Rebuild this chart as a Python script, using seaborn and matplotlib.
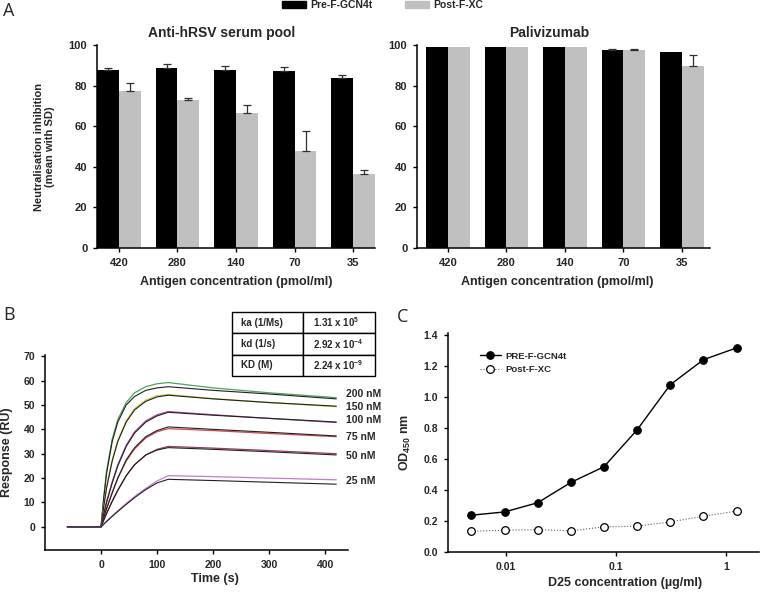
import matplotlib
matplotlib.use('Agg')
import matplotlib.pyplot as plt
from matplotlib.patches import Patch
from matplotlib.ticker import FixedLocator, NullLocator
import seaborn as sns
import pandas as pd

# --- panel A: neutralisation inhibition (mean with SD) ---
antigen_conc = ['420', '280', '140', '70', '35']
antigens = ['Pre-F-GCN4t', 'Post-F-XC']
serum_pre = [87.7, 88.6, 87.5, 87.2, 83.8]
serum_pre_sd = [0.8, 1.9, 2.3, 2.1, 1.6]
serum_post = [77.3, 73.0, 66.4, 47.7, 36.4]
serum_post_sd = [3.8, 0.8, 4.1, 9.7, 2.1]
pali_pre = [98.9, 98.9, 98.9, 97.6, 96.6]
pali_pre_sd = [0, 0, 0, 0.6, 0]
pali_post = [98.9, 98.9, 98.9, 97.4, 89.7]
pali_post_sd = [0, 0, 0, 0.8, 5.4]

# --- panel B: SPR sensorgrams (data trace + fit per concentration) ---
spr_time = [-60, 0, 5, 10, 20, 30, 45, 60, 80, 100, 120, 200, 300, 420]
spr_conc = ['200 nM', '150 nM', '100 nM', '75 nM', '50 nM', '25 nM']
spr_data = [
    [0, 0, 12.5, 23.0, 36.0, 44.0, 51.0, 55.0, 57.5, 58.7, 59.2, 57.0, 55.0, 53.0],
    [0, 0, 8.8, 16.5, 27.5, 35.5, 43.5, 48.5, 52.0, 53.8, 54.3, 52.6, 51.0, 49.3],
    [0, 0, 5.5, 10.5, 18.5, 25.5, 33.5, 39.0, 43.5, 46.0, 47.3, 46.0, 44.5, 42.8],
    [0, 0, 3.9, 7.5, 14.0, 20.0, 27.0, 32.0, 36.5, 39.0, 40.3, 39.5, 38.3, 37.0],
    [0, 0, 2.9, 5.5, 10.5, 15.0, 21.0, 25.5, 29.5, 31.8, 33.0, 32.3, 31.3, 30.0],
    [0, 0, 1.2, 2.3, 4.5, 6.6, 9.6, 12.4, 15.8, 18.8, 21.0, 20.6, 20.0, 19.3],
]
spr_fit = [
    [0, 0, 12.0, 22.0, 35.0, 43.0, 50.0, 53.5, 56.0, 57.0, 57.5, 56.0, 54.5, 52.5],
    [0, 0, 8.5, 16.0, 27.0, 35.0, 43.0, 48.0, 51.5, 53.3, 54.0, 52.5, 51.0, 49.5],
    [0, 0, 5.3, 10.0, 18.0, 25.0, 33.0, 38.5, 43.0, 45.5, 47.0, 45.8, 44.5, 43.0],
    [0, 0, 3.9, 7.5, 14.0, 20.0, 27.5, 32.5, 37.0, 39.5, 41.0, 40.0, 38.8, 37.3],
    [0, 0, 2.8, 5.5, 10.5, 15.0, 21.0, 25.5, 29.5, 31.5, 32.5, 31.8, 30.8, 29.5],
    [0, 0, 1.1, 2.2, 4.3, 6.3, 9.2, 12.0, 15.3, 18.0, 19.5, 19.0, 18.3, 17.5],
]
kinetics = [['ka (1/Ms)', r'1.31 x 10$^{\mathbf{5}}$'],
            ['kd (1/s)', r'2.92 x 10$^{\mathbf{-4}}$'],
            ['KD (M)', r'2.24 x 10$^{\mathbf{-9}}$']]

# --- panel C: ELISA with D25 ---
d25_conc = [0.00488, 0.00977, 0.0195, 0.0391, 0.0781, 0.156, 0.3125, 0.625, 1.25]
pre_od = [0.237, 0.258, 0.317, 0.448, 0.549, 0.786, 1.077, 1.238, 1.314]
post_od = [0.134, 0.140, 0.144, 0.136, 0.162, 0.166, 0.194, 0.230, 0.263]

sns.set_style('ticks')
plt.rcParams['font.family'] = ['Liberation Sans', 'DejaVu Sans']
plt.rcParams['font.weight'] = 'bold'
plt.rcParams['axes.labelweight'] = 'bold'
plt.rcParams['axes.titleweight'] = 'bold'
plt.rcParams['mathtext.fontset'] = 'custom'
plt.rcParams['mathtext.rm'] = 'Liberation Sans:bold'
plt.rcParams['mathtext.bf'] = 'Liberation Sans:bold'
plt.rcParams['axes.linewidth'] = 1.1
plt.rcParams['axes.edgecolor'] = 'black'

bar_colors = {'Pre-F-GCN4t': 'black', 'Post-F-XC': '#c0c0c0'}
W, H = 760, 594

fig = plt.figure(figsize=(7.6, 5.94), dpi=100)
axA1 = fig.add_axes([97 / W, 1 - 248 / H, 278 / W, 203 / H])
axA2 = fig.add_axes([417 / W, 1 - 248 / H, 293 / W, 203 / H])
axB = fig.add_axes([45 / W, 1 - 550 / H, 303 / W, 195 / H])
axC = fig.add_axes([448 / W, 1 - 552 / H, 311 / W, 219 / H])


def bar_panel(ax, pre, pre_sd, post, post_sd, title, xlim, xlab_x):
    df = pd.DataFrame({'conc': antigen_conc * 2,
                       'antigen': [antigens[0]] * 5 + [antigens[1]] * 5,
                       'value': pre + post})
    sns.barplot(data=df, x='conc', y='value', hue='antigen', order=antigen_conc,
                hue_order=antigens, palette=bar_colors, width=0.75, errorbar=None,
                linewidth=0, legend=False, ax=ax)
    for cont, sds in zip(ax.containers, [pre_sd, post_sd]):
        for bar, sd in zip(cont, sds):
            if sd > 0:
                ax.errorbar(bar.get_x() + bar.get_width() / 2, bar.get_height(),
                            yerr=[[0], [sd]], color='#303030', lw=0.9,
                            capsize=3, capthick=0.9, zorder=3)
    ax.set_xlim(*xlim)
    ax.set_ylim(0, 100)
    ax.set_yticks(range(0, 101, 20))
    ax.set_title(title, fontsize=10, x=0.45, pad=6)
    ax.set_xlabel('Antigen concentration (pmol/ml)', fontsize=9)
    ax.xaxis.set_label_coords(xlab_x, -0.14)
    ax.set_ylabel('')
    ax.tick_params(labelsize=8, length=3, width=1, color='black', pad=4)
    sns.despine(ax=ax)


bar_panel(axA1, serum_pre, serum_pre_sd, serum_post, serum_post_sd,
          'Anti-hRSV serum pool', (-0.375, 4.375), 0.5)
bar_panel(axA2, pali_pre, pali_pre_sd, pali_post, pali_post_sd,
          'Palivizumab', (-0.53, 4.48), 0.478)
axA1.set_ylabel('Neutralisation inhibition\n(mean with SD)', fontsize=8,
                linespacing=1.1)
axA1.yaxis.set_label_coords(-0.15, 0.5)

fig.legend(handles=[Patch(color=bar_colors[a], label=a) for a in antigens],
           loc='upper left', bbox_to_anchor=(282 / W, 1.0), ncol=2, frameon=False,
           fontsize=7.5, handlelength=2.3, handleheight=0.75, handletextpad=0.4,
           columnspacing=3.1, borderpad=0, borderaxespad=0)

# panel B
trace_colors = ['#4fa35a', '#c8cc3a', '#b4509c', '#d04848', '#9a3c5a', '#c47ad0']
for conc, data, fit, col in zip(spr_conc, spr_data, spr_fit, trace_colors):
    sns.lineplot(x=spr_time, y=data, color=col, lw=0.9, ax=axB)
    sns.lineplot(x=spr_time, y=fit, color='#202020', lw=0.8, ax=axB)
label_y = [54.3, 49.0, 44.0, 37.0, 29.2, 18.9]
for conc, y in zip(spr_conc, label_y):
    axB.text(437, y, conc, fontsize=7.5, va='center', ha='left', clip_on=False)
axB.set_xlim(-100, 441)
axB.set_ylim(-9.5, 70.5)
axB.set_xticks([0, 100, 200, 300, 400])
axB.set_yticks(range(0, 71, 10))
axB.set_xlabel('Time (s)', fontsize=9)
axB.xaxis.set_label_coords(0.56, -0.12)
axB.set_ylabel('Response (RU)', fontsize=9)
axB.yaxis.set_label_coords(-0.106, 0.5)
axB.tick_params(labelsize=7.5, length=3, width=1, color='black', pad=4)
sns.despine(ax=axB)
tab = axB.table(cellText=kinetics, cellLoc='left',
                bbox=[0.617, 0.892, 0.472, 0.329])
tab.auto_set_font_size(False)
for cell in tab.get_celld().values():
    cell.set_linewidth(1.0)
    cell.get_text().set_fontsize(7)
    cell.get_text().set_fontweight('bold')
    cell.PAD = 0.13
tab.set_clip_on(False)

# panel C
sns.lineplot(x=d25_conc, y=pre_od, color='black', lw=1.0, marker='o', markersize=5.5,
             markerfacecolor='black', markeredgecolor='black', label='PRE-F-GCN4t', ax=axC)
sns.lineplot(x=d25_conc, y=post_od, color='#606060', lw=0.8, ls=':', marker='o',
             markersize=5.5, markerfacecolor='white', markeredgecolor='black',
             markeredgewidth=0.9, label='Post-F-XC', ax=axC)
axC.set_xscale('log')
axC.set_xlim(0.00299, 2.0)
axC.set_ylim(0, 1.41)
axC.xaxis.set_major_locator(FixedLocator([0.01, 0.1, 1]))
axC.xaxis.set_minor_locator(NullLocator())
axC.set_xticklabels(['0.01', '0.1', '1'])
axC.set_yticks([0.0, 0.2, 0.4, 0.6, 0.8, 1.0, 1.2, 1.4])
axC.set_yticklabels(['%.1f' % v for v in axC.get_yticks()])
axC.set_xlabel('D25 concentration (µg/ml)', fontsize=9)
axC.xaxis.set_label_coords(0.57, -0.114)
axC.set_ylabel(r'OD$_{\mathbf{450}}$ nm', fontsize=9)
axC.yaxis.set_label_coords(-0.112, 0.5)
axC.tick_params(labelsize=7.5, length=3, width=1, color='black', pad=4)
axC.legend(loc='upper left', bbox_to_anchor=(0.103, 0.915), frameon=False,
           fontsize=6.8, handlelength=2.2, handletextpad=0.5, labelspacing=0.45,
           borderpad=0, borderaxespad=0)
sns.despine(ax=axC)

# panel letters
for txt, x, y in [('A', 3, 2), ('B', 3, 306), ('C', 397, 308)]:
    fig.text(x / W, 1 - y / H, txt, fontsize=13, fontweight='normal',
             family=['Open Sans', 'DejaVu Sans'], va='top', ha='left')

fig.savefig('out.png', dpi=100)
